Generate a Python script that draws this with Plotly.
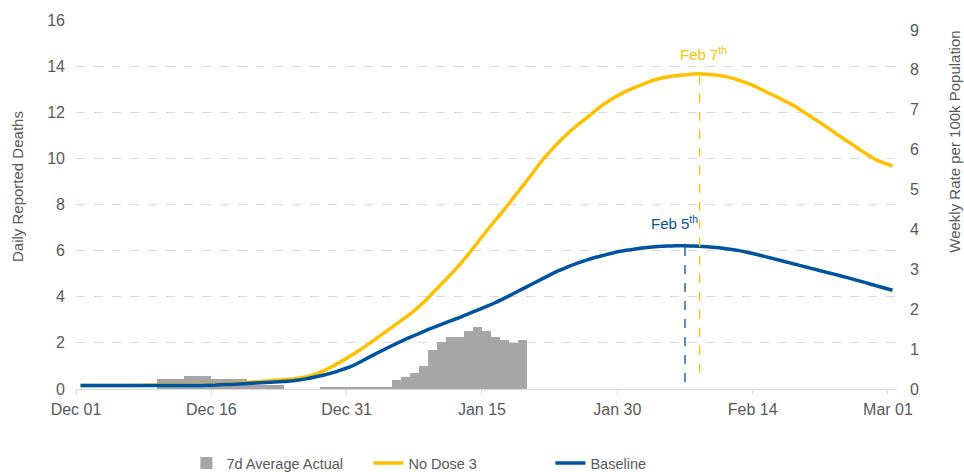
import pandas as pd
import plotly.graph_objects as go

# ---- data ----
start_date = "2021-12-01"
n_days = 91  # Dec 01 .. Mar 01

actual_7d_avg = [
    0, 0, 0, 0, 0, 0, 0, 0, 0,            # Dec 01-09
    0.43, 0.43, 0.43,                     # Dec 10-12
    0.56, 0.56, 0.56,                     # Dec 13-15
    0.43, 0.43, 0.43, 0.43,               # Dec 16-19
    0.17, 0.17, 0.17, 0.17,               # Dec 20-23
    0, 0, 0, 0,                           # Dec 24-27
    0.1, 0.1, 0.1, 0.1, 0.1, 0.1, 0.1, 0.1,  # Dec 28 - Jan 04
    0.39, 0.52, 0.69, 1.0, 1.69, 2.04, 2.25, 2.25,
    2.52, 2.69, 2.52, 2.25, 2.12, 2.0, 2.12,  # Jan 05-19
]

no_dose3 = [
    0.15, 0.15, 0.15, 0.15, 0.15, 0.15, 0.15, 0.16, 0.16, 0.16,
    0.16, 0.16, 0.17, 0.17, 0.18, 0.19, 0.21, 0.24, 0.27, 0.30,
    0.33, 0.36, 0.39, 0.42, 0.46, 0.52, 0.63, 0.80, 1.00, 1.22,
    1.45, 1.70, 1.97, 2.25, 2.53, 2.82, 3.10, 3.40, 3.75, 4.15,
    4.55, 4.95, 5.38, 5.85, 6.35, 6.85, 7.33, 7.80, 8.30, 8.80,
    9.30, 9.82, 10.28, 10.70, 11.08, 11.42, 11.72, 12.05, 12.35, 12.60,
    12.82, 13.00, 13.17, 13.32, 13.44, 13.53, 13.58, 13.62, 13.66, 13.66,
    13.63, 13.58, 13.50, 13.38, 13.25, 13.08, 12.88, 12.70, 12.50, 12.30,
    12.05, 11.80, 11.55, 11.28, 11.00, 10.74, 10.48, 10.22, 9.98, 9.80,
    9.67,
]

baseline = [
    0.15, 0.15, 0.15, 0.15, 0.15, 0.15, 0.15, 0.15, 0.15, 0.15,
    0.15, 0.15, 0.15, 0.15, 0.16, 0.17, 0.19, 0.21, 0.23, 0.25,
    0.27, 0.29, 0.31, 0.34, 0.38, 0.44, 0.52, 0.61, 0.71, 0.84,
    0.98, 1.17, 1.38, 1.58, 1.78, 1.97, 2.15, 2.32, 2.49, 2.65,
    2.80, 2.95, 3.10, 3.26, 3.42, 3.58, 3.75, 3.94, 4.14, 4.34,
    4.54, 4.74, 4.94, 5.13, 5.30, 5.45, 5.58, 5.70, 5.80, 5.90,
    5.98, 6.04, 6.10, 6.15, 6.18, 6.20, 6.21, 6.21, 6.20, 6.18,
    6.15, 6.11, 6.06, 6.00, 5.92, 5.83, 5.73, 5.63, 5.53, 5.43,
    5.33, 5.23, 5.13, 5.03, 4.93, 4.83, 4.72, 4.61, 4.50, 4.39,
    4.28,
]

peak_labels = ["Feb 7<sup>th</sup>", "Feb 5<sup>th</sup>"]
peak_dates = ["2022-02-08 03:00", "2022-02-06 12:00"]
peak_values = [13.68, 6.21]

left_ticks = [0, 2, 4, 6, 8, 10, 12, 14, 16]
right_ticks = [0, 1, 2, 3, 4, 5, 6, 7, 8, 9]

# ---- styling ----
YELLOW = "#FFC000"
BLUE = "#00539F"
GREY = "#A6A6A6"
TXT = "#595959"
GRID = "#D9D9D9"
FONT = "Liberation Sans, Arial, sans-serif"

days = pd.date_range(start_date, periods=n_days, freq="D")
pts = days + pd.Timedelta(hours=12)

fig = go.Figure()
fig.add_trace(go.Bar(
    x=pts[:len(actual_7d_avg)], y=actual_7d_avg, name="7d Average Actual",
    marker=dict(color=GREY, line=dict(width=0)), width=86400000,
))
fig.add_trace(go.Scatter(
    x=pts, y=no_dose3, name="No Dose 3", mode="lines",
    line=dict(color=YELLOW, width=3.5, shape="spline", smoothing=0.6),
))
fig.add_trace(go.Scatter(
    x=pts, y=baseline, name="Baseline", mode="lines",
    line=dict(color=BLUE, width=3.5, shape="spline", smoothing=0.6),
))
# invisible trace to activate right axis
fig.add_trace(go.Scatter(x=[pts[0]], y=[0], yaxis="y2", mode="markers",
                         marker=dict(opacity=0), showlegend=False, hoverinfo="skip"))

peak_colors = [YELLOW, BLUE]
peak_bottoms = [0.7, 0.3]
label_shift = [(4, 0.86), (-10, 1.0)]
for lab, d, v, c, b, (xs, dy) in zip(peak_labels, peak_dates, peak_values,
                                     peak_colors, peak_bottoms, label_shift):
    fig.add_shape(type="line", xref="x", yref="y", x0=d, x1=d, y0=b, y1=v,
                  line=dict(color=c, width=1.3, dash="dash"))
    fig.add_annotation(x=d, y=v + dy, xref="x", yref="y", text=lab,
                       showarrow=False, xshift=xs,
                       font=dict(color=c, size=15, family=FONT))

fig.add_annotation(text="Daily Reported Deaths", xref="paper", yref="paper",
                   x=-0.0719, y=0.55, xanchor="center", yanchor="middle",
                   textangle=-90, showarrow=False,
                   font=dict(size=15, color=TXT, family=FONT))
fig.add_annotation(text="Weekly Rate per 100k Population", xref="paper", yref="paper",
                   x=1.0706, y=0.67, xanchor="center", yanchor="middle",
                   textangle=-90, showarrow=False,
                   font=dict(size=15, color=TXT, family=FONT))

fig.update_layout(
    width=964, height=472,
    margin=dict(l=76, r=67, t=20, b=83, autoexpand=False),
    paper_bgcolor="white", plot_bgcolor="white",
    bargap=0,
    font=dict(family=FONT, color=TXT, size=15),
    showlegend=True,
    legend=dict(orientation="h", x=0.467, xanchor="center", y=-0.244, yanchor="bottom",
                font=dict(size=14.5, color=TXT, family=FONT),
                itemwidth=30, entrywidth=137, traceorder="normal"),
    xaxis=dict(
        type="date", range=["2021-12-01", "2022-03-02"],
        tick0="2021-12-01", dtick=15 * 86400000, tickformat="%b %d",
        showgrid=False, showline=True, linecolor=GRID, linewidth=1,
        ticks="outside", tickcolor=GRID, ticklen=5,
        tickfont=dict(size=16, color=TXT), ticklabelstandoff=1,
        zeroline=False, automargin=False,
    ),
    yaxis=dict(
        range=[0, 16], tickvals=left_ticks, showgrid=True, gridcolor=GRID,
        griddash="dash", gridwidth=1, zeroline=False, showline=False,
        tickfont=dict(size=16, color=TXT), ticklabelstandoff=10, automargin=False,
    ),
    yaxis2=dict(
        range=[0, 9.25], tickvals=right_ticks, overlaying="y", side="right",
        showgrid=False, zeroline=False, showline=False,
        tickfont=dict(size=16, color=TXT), ticklabelstandoff=12, automargin=False,
    ),
)

fig.write_html("out.html", config={"displayModeBar": False},
               post_script="document.body.style.margin='0px';document.body.style.overflow='hidden';")
